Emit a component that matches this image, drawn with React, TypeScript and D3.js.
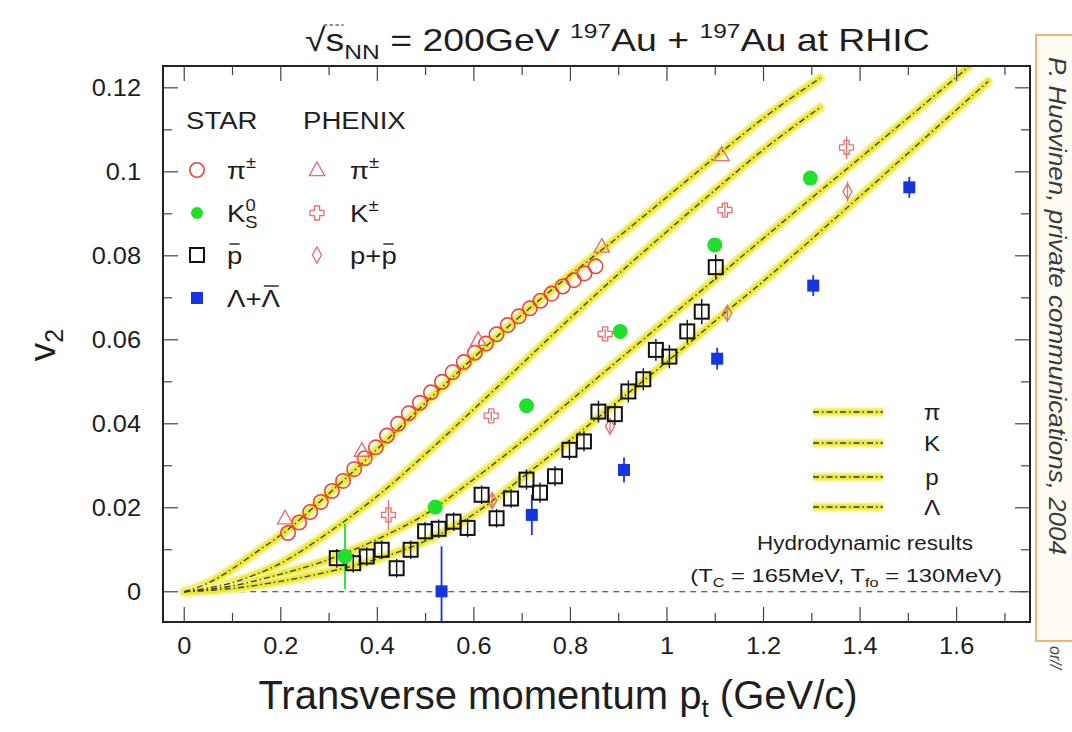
import React from 'react';
import * as d3 from 'd3';

const W = 1072;
const H = 732;
const FONT = "'Liberation Sans', Arial, Helvetica, sans-serif";

// STAR pi+- (open red circles)
const starPiPt = [0.215, 0.238, 0.261, 0.283, 0.306, 0.329, 0.352, 0.374, 0.397, 0.42, 0.443, 0.465, 0.488, 0.511, 0.534, 0.556, 0.579, 0.602, 0.625, 0.647, 0.67, 0.693, 0.716, 0.738, 0.761, 0.784, 0.807, 0.829, 0.852];
const starPiV2 = [0.014, 0.0165, 0.019, 0.0214, 0.024, 0.0264, 0.0292, 0.0318, 0.0344, 0.0372, 0.04, 0.0425, 0.045, 0.0475, 0.05, 0.0523, 0.0547, 0.0569, 0.0591, 0.0613, 0.0635, 0.0656, 0.0675, 0.0693, 0.071, 0.0727, 0.0742, 0.0758, 0.0775];

// STAR K0s (filled green circles)
const starK0Pt = [0.333, 0.52, 0.709, 0.903, 1.099, 1.297];
const starK0V2 = [0.0084, 0.0202, 0.0443, 0.062, 0.0826, 0.0985];
const starK0Err = [0.0078, 0.0015, 0.0015, 0.0015, 0.0015, 0.0015];

// STAR anti-proton (open black squares)
const starPbarPt = [0.316, 0.35, 0.378, 0.409, 0.44, 0.469, 0.499, 0.527, 0.558, 0.587, 0.616, 0.647, 0.677, 0.709, 0.737, 0.768, 0.798, 0.828, 0.858, 0.892, 0.92, 0.951, 0.977, 1.005, 1.042, 1.072, 1.101];
const starPbarV2 = [0.008, 0.0068, 0.0084, 0.01, 0.0056, 0.01, 0.0144, 0.015, 0.0167, 0.0152, 0.0231, 0.0175, 0.0222, 0.0267, 0.0236, 0.0275, 0.0338, 0.0358, 0.0429, 0.0423, 0.0477, 0.0506, 0.0576, 0.056, 0.062, 0.0667, 0.0773];
const starPbarErr = [0.0022, 0.0022, 0.0022, 0.0022, 0.0022, 0.0022, 0.0022, 0.0022, 0.0022, 0.0022, 0.0022, 0.0022, 0.0022, 0.0024, 0.0024, 0.0024, 0.0024, 0.0024, 0.0026, 0.0026, 0.0026, 0.0026, 0.0026, 0.0028, 0.0028, 0.003, 0.003];

// STAR Lambda + anti-Lambda (filled blue squares)
const starLamPt = [0.533, 0.72, 0.911, 1.104, 1.303, 1.502];
const starLamV2 = [0.0001, 0.0183, 0.029, 0.0555, 0.0729, 0.0963];
const starLamErr = [0.0107, 0.0048, 0.003, 0.0026, 0.0025, 0.0025];

// PHENIX pi+- (open triangles)
const phxPiPt = [0.209, 0.368, 0.609, 0.865, 1.113];
const phxPiV2 = [0.0175, 0.0336, 0.06, 0.0822, 0.104];

// PHENIX K+- (open crosses)
const phxKPt = [0.423, 0.636, 0.872, 1.12, 1.372];
const phxKV2 = [0.0183, 0.0419, 0.0614, 0.0909, 0.1058];
const phxKErr = [0.0036, 0.0012, 0.0012, 0.0015, 0.0027];

// PHENIX p + pbar (open diamonds)
const phxPPt = [0.638, 0.882, 1.125, 1.374];
const phxPV2 = [0.0217, 0.0394, 0.0663, 0.0953];
const phxPErr = [0.0015, 0.0015, 0.0018, 0.0024];

// Hydrodynamic curves (Tc = 165 MeV, Tfo = 130 MeV)
const hydroPiPt = [0, 0.05, 0.1, 0.15, 0.2, 0.3, 0.4, 0.5, 0.6, 0.7, 0.8, 0.9, 1.0, 1.1, 1.2, 1.317];
const hydroPiV2 = [0, 0.0021, 0.0055, 0.0095, 0.0135, 0.0234, 0.034, 0.045, 0.0558, 0.066, 0.0755, 0.0846, 0.094, 0.1035, 0.1128, 0.1223];
const hydroKPt = [0, 0.1, 0.2, 0.3, 0.4, 0.5, 0.6, 0.7, 0.8, 0.9, 1.0, 1.1, 1.2, 1.317];
const hydroKV2 = [0, 0.0022, 0.0068, 0.0142, 0.0228, 0.0328, 0.0435, 0.0543, 0.0652, 0.0757, 0.0858, 0.0957, 0.1053, 0.1153];
const hydroPPt = [0, 0.1, 0.2, 0.3, 0.4, 0.5, 0.6, 0.7, 0.8, 0.9, 1.0, 1.1, 1.2, 1.3, 1.4, 1.5, 1.624];
const hydroPV2 = [0, 0.0014, 0.0042, 0.0077, 0.0125, 0.0185, 0.0268, 0.0358, 0.0455, 0.0552, 0.0648, 0.0745, 0.0842, 0.0938, 0.1033, 0.1129, 0.1249];
const hydroLPt = [0, 0.1, 0.2, 0.3, 0.4, 0.52, 0.613, 0.7, 0.8, 0.9, 1.0, 1.1, 1.2, 1.3, 1.4, 1.5, 1.6, 1.665];
const hydroLV2 = [0, 0.0008, 0.0025, 0.0048, 0.0078, 0.0132, 0.0195, 0.0272, 0.0362, 0.0455, 0.0548, 0.0645, 0.074, 0.084, 0.0942, 0.1045, 0.1148, 0.1215];

const xTickLabels = ['0', '0.2', '0.4', '0.6', '0.8', '1', '1.2', '1.4', '1.6'];
const yTickLabels = ['0', '0.02', '0.04', '0.06', '0.08', '0.1', '0.12'];
const hydroLegend = ['π', 'K', 'p', 'Λ'];

const X0 = 163, X1 = 1030, Y0 = 66, Y1 = 622;
const x = d3.scaleLinear().domain([-0.044, 1.752]).range([X0, X1]);
const y = d3.scaleLinear().domain([-0.0072, 0.1252]).range([Y1, Y0]);

const RED = '#e8453c';
const PINK = '#e27272';
const GREEN = '#1fe02a';
const BLUE = '#1535e0';
const INK = '#1e1e1e';

const line = d3.line<[number, number]>().x(d => x(d[0])).y(d => y(d[1])).curve(d3.curveMonotoneX);
const zip = (a: number[], b: number[]) => a.map((v, i) => [v, b[i]] as [number, number]);

const hydro = [
  zip(hydroPiPt, hydroPiV2),
  zip(hydroKPt, hydroKV2),
  zip(hydroPPt, hydroPV2),
  zip(hydroLPt, hydroLV2),
];

// Text placed at (x, y) and widened horizontally by factor s.
function WText({ x, y, s = 1.1, size, anchor = 'start', children }: { x: number; y: number; s?: number; size: number; anchor?: string; children: React.ReactNode }) {
  return (
    <g transform={`translate(${x},${y}) scale(${s},1)`}>
      <text x={0} y={0} fontSize={size} textAnchor={anchor} fill={INK}>{children}</text>
    </g>
  );
}

function Band({ d }: { d: string }) {
  return (
    <g fill="none" strokeLinecap="round">
      <path d={d} stroke="#f6f38c" strokeWidth={10} />
      <path d={d} stroke="#ece83a" strokeWidth={6} />
    </g>
  );
}
function DashDot({ d }: { d: string }) {
  return <path d={d} fill="none" stroke="#3a3a30" strokeWidth={1.3} strokeDasharray="6 3 1.5 3" />;
}

function Triangle({ cx, cy, s = 8, color = PINK }: { cx: number; cy: number; s?: number; color?: string }) {
  return <path d={`M${cx},${cy - s} L${cx + s * 0.95},${cy + s * 0.7} L${cx - s * 0.95},${cy + s * 0.7} Z`} fill="none" stroke={color} strokeWidth={1.4} />;
}
function Cross({ cx, cy, color = PINK }: { cx: number; cy: number; color?: string }) {
  const a = 2.6, b = 7;
  const p = [
    [-a, -b], [a, -b], [a, -a], [b, -a], [b, a], [a, a], [a, b], [-a, b], [-a, a], [-b, a], [-b, -a], [-a, -a],
  ].map(([u, v]) => `${cx + u},${cy + v}`).join(' L');
  return <path d={`M${p} Z`} fill="none" stroke={color} strokeWidth={1.3} strokeLinejoin="round" />;
}
function Diamond({ cx, cy, color = PINK }: { cx: number; cy: number; color?: string }) {
  return <path d={`M${cx},${cy - 8} L${cx + 4.5},${cy} L${cx},${cy + 8} L${cx - 4.5},${cy} Z`} fill="none" stroke={color} strokeWidth={1.4} />;
}

export default function App() {
  const xMinor = d3.range(0, 18).map(i => i / 10);
  const yMinor = d3.range(0, 13).map(i => i / 100);
  const LS = 1.15; // legend text widening
  const LF = 24;

  return (
    <svg width={W} height={H} style={{ display: 'block', position: 'absolute', left: 0, top: 0 }} fontFamily={FONT}>
      <defs>
        <clipPath id="plotClip">
          <rect x={X0} y={Y0} width={X1 - X0} height={Y1 - Y0} />
        </clipPath>
      </defs>
      <rect width={W} height={H} fill="#fff" />

      {/* side note box */}
      <rect x={1036} y={35} width={60} height={606} fill="#fffdf3" stroke="#efb47c" strokeWidth={2} />
      <text transform="translate(1049,57) rotate(90)" fontSize={23} fontStyle="italic" fill="#3a3a3a" textLength={498} lengthAdjust="spacingAndGlyphs">P. Huovinen, private communications, 2004</text>
      <text transform="translate(1050,646) rotate(90)" fontSize={16} fontStyle="italic" fill="#444">or//</text>

      {/* title */}
      <g transform="translate(305,51) scale(1.17,1)">
        <text x={0} y={0} fontSize={32} fill={INK}>
          √s<tspan dy={8} fontSize={21}>NN</tspan>
          <tspan dy={-8}> = 200GeV </tspan>
          <tspan dy={-13} fontSize={21}>197</tspan>
          <tspan dy={13}>Au + </tspan>
          <tspan dy={-13} fontSize={21}>197</tspan>
          <tspan dy={13}>Au at RHIC</tspan>
        </text>
        <line x1={16} x2={33} y1={-26} y2={-26} stroke={INK} strokeWidth={1} strokeDasharray="3 2" />
      </g>

      {/* zero reference */}
      <line x1={x(0)} x2={X1} y1={y(0)} y2={y(0)} stroke="#333" strokeWidth={1.2} strokeDasharray="6 5" />

      {/* hydro curves */}
      <g clipPath="url(#plotClip)">
        {hydro.map((h, i) => <Band key={i} d={line(h) || ''} />)}
        {hydro.map((h, i) => <DashDot key={i} d={line(h) || ''} />)}
      </g>

      {/* data */}
      <g clipPath="url(#plotClip)">
        {starK0Pt.map((p, i) => (
          <line key={'ke' + i} x1={x(p)} x2={x(p)} y1={y(starK0V2[i] - starK0Err[i])} y2={y(starK0V2[i] + starK0Err[i])} stroke={GREEN} strokeWidth={1.8} />
        ))}
        {starLamPt.map((p, i) => (
          <line key={'le' + i} x1={x(p)} x2={x(p)} y1={y(starLamV2[i] - starLamErr[i])} y2={y(starLamV2[i] + starLamErr[i])} stroke={BLUE} strokeWidth={1.8} />
        ))}
        {starPbarPt.map((p, i) => (
          <line key={'pe' + i} x1={x(p)} x2={x(p)} y1={y(starPbarV2[i] - starPbarErr[i])} y2={y(starPbarV2[i] + starPbarErr[i])} stroke="#111" strokeWidth={1.4} />
        ))}
        {phxKPt.map((p, i) => (
          <line key={'xe' + i} x1={x(p)} x2={x(p)} y1={y(phxKV2[i] - phxKErr[i])} y2={y(phxKV2[i] + phxKErr[i])} stroke={PINK} strokeWidth={1.3} />
        ))}
        {phxPPt.map((p, i) => (
          <line key={'de' + i} x1={x(p)} x2={x(p)} y1={y(phxPV2[i] - phxPErr[i])} y2={y(phxPV2[i] + phxPErr[i])} stroke={PINK} strokeWidth={1.3} />
        ))}

        {starPiPt.map((p, i) => (
          <circle key={'pi' + i} cx={x(p)} cy={y(starPiV2[i])} r={7.2} fill="none" stroke={RED} strokeWidth={1.6} />
        ))}
        {phxPiPt.map((p, i) => <Triangle key={'tr' + i} cx={x(p)} cy={y(phxPiV2[i])} />)}
        {phxKPt.map((p, i) => <Cross key={'cr' + i} cx={x(p)} cy={y(phxKV2[i])} />)}
        {phxPPt.map((p, i) => <Diamond key={'di' + i} cx={x(p)} cy={y(phxPV2[i])} />)}
        {starPbarPt.map((p, i) => (
          <rect key={'pb' + i} x={x(p) - 7} y={y(starPbarV2[i]) - 7} width={14} height={14} fill="none" stroke="#111" strokeWidth={2} />
        ))}
        {starK0Pt.map((p, i) => (
          <circle key={'k0' + i} cx={x(p)} cy={y(starK0V2[i])} r={7.5} fill={GREEN} />
        ))}
        {starLamPt.map((p, i) => (
          <rect key={'la' + i} x={x(p) - 6} y={y(starLamV2[i]) - 6} width={12} height={12} fill={BLUE} />
        ))}
      </g>

      {/* frame and ticks */}
      <rect x={X0} y={Y0} width={X1 - X0} height={Y1 - Y0} fill="none" stroke="#222" strokeWidth={2} />
      <g stroke="#444" strokeWidth={1.2}>
        {xMinor.map((t, i) => {
          const len = i % 2 === 0 ? 15 : 9;
          return (
            <g key={'xt' + i}>
              <line x1={x(t)} x2={x(t)} y1={Y1} y2={Y1 - len} />
              <line x1={x(t)} x2={x(t)} y1={Y0} y2={Y0 + len} />
            </g>
          );
        })}
        {yMinor.map((t, i) => {
          const len = i % 2 === 0 ? 15 : 9;
          return (
            <g key={'yt' + i}>
              <line x1={X0} x2={X0 + len} y1={y(t)} y2={y(t)} />
              <line x1={X1} x2={X1 - len} y1={y(t)} y2={y(t)} />
            </g>
          );
        })}
      </g>
      {xTickLabels.map(l => (
        <WText key={'xl' + l} x={x(+l)} y={654} s={1.08} size={23.5} anchor="middle">{l}</WText>
      ))}
      {yTickLabels.map(l => (
        <WText key={'yl' + l} x={141} y={y(+l) + 8.5} s={1.08} size={23.5} anchor="end">{l}</WText>
      ))}

      {/* axis titles */}
      <text x={558} y={709} textAnchor="middle" fontSize={40} fill={INK}>
        Transverse momentum p<tspan dy={8} fontSize={26}>t</tspan><tspan dy={-8}> (GeV/c)</tspan>
      </text>
      <text transform="translate(55,345) rotate(-90)" textAnchor="middle" fontSize={37} fill={INK}>
        v<tspan dy={8} fontSize={25}>2</tspan>
      </text>

      {/* experiment legend */}
      <WText x={186} y={129} s={LS} size={LF}>STAR</WText>
      <WText x={303} y={129} s={LS} size={LF}>PHENIX</WText>

      <circle cx={197} cy={170} r={7.2} fill="none" stroke={RED} strokeWidth={1.6} />
      <WText x={227} y={179} s={LS} size={LF}>π<tspan dy={-11} fontSize={16}>±</tspan></WText>
      <circle cx={197} cy={213} r={6} fill={GREEN} />
      <WText x={227} y={222} s={LS} size={LF}>K<tspan dy={-11} fontSize={16}>0</tspan><tspan dx={-9} dy={17} fontSize={16}>S</tspan></WText>
      <rect x={190} y={248} width={14} height={14} fill="none" stroke="#111" strokeWidth={2} />
      <g transform="translate(227,264) scale(1.15,1)">
        <text fontSize={LF} fill={INK}>p</text>
        <line x1={2} x2={11} y1={-20} y2={-20} stroke={INK} strokeWidth={1.4} />
      </g>
      <rect x={191} y={292} width={12} height={12} fill={BLUE} />
      <g transform="translate(227,307) scale(1.15,1)">
        <text fontSize={LF} fill={INK}>Λ+Λ</text>
        <line x1={32} x2={45} y1={-21} y2={-21} stroke={INK} strokeWidth={1.4} />
      </g>

      <Triangle cx={317} cy={170} />
      <WText x={350} y={179} s={LS} size={LF}>π<tspan dy={-11} fontSize={16}>±</tspan></WText>
      <Cross cx={317} cy={213} />
      <WText x={350} y={222} s={LS} size={LF}>K<tspan dy={-11} fontSize={16}>±</tspan></WText>
      <Diamond cx={317} cy={255} />
      <g transform="translate(350,264) scale(1.15,1)">
        <text fontSize={LF} fill={INK}>p+p</text>
        <line x1={29} x2={38} y1={-20} y2={-20} stroke={INK} strokeWidth={1.4} />
      </g>

      {/* hydro legend */}
      {hydroLegend.map((l, i) => {
        const yy = [412, 443, 477, 507][i];
        const d = `M813,${yy} L883,${yy}`;
        return (
          <g key={'hl' + l}>
            <path d={d} stroke="#f6f38c" strokeWidth={9} />
            <path d={d} stroke="#ece83a" strokeWidth={5} />
            <path d={d} stroke="#3a3a30" strokeWidth={1.3} strokeDasharray="6 3 1.5 3" />
            <WText x={932} y={yy + 8} s={1.1} size={22} anchor="middle">{l}</WText>
          </g>
        );
      })}
      <WText x={973} y={550} s={1.07} size={21} anchor="end">Hydrodynamic results</WText>
      <WText x={1002} y={582} s={1.25} size={19} anchor="end">
        (T<tspan dy={5} fontSize={13}>C</tspan><tspan dy={-5}> = 165MeV, T</tspan><tspan dy={5} fontSize={13}>fo</tspan><tspan dy={-5}> = 130MeV)</tspan>
      </WText>
    </svg>
  );
}
